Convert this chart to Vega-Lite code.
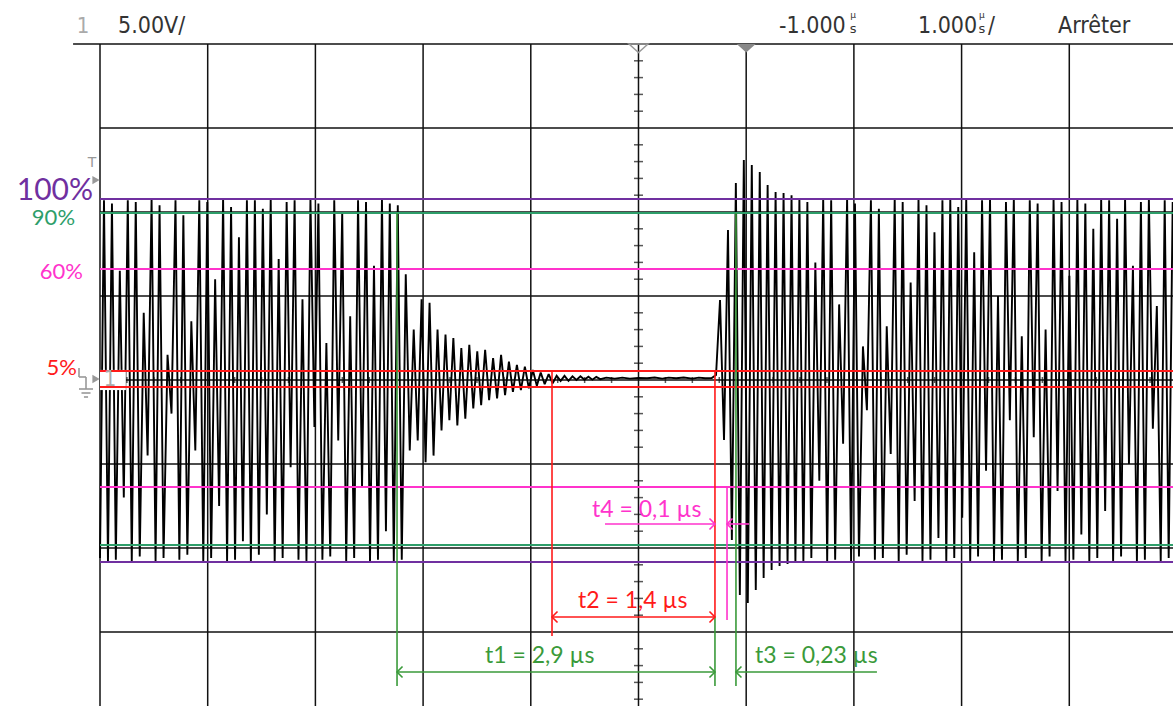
{
"$schema":"https://vega.github.io/schema/vega-lite/v6.json",
"width":1073,"height":662,
"autosize":{"type":"none"},
"padding":{"left":100,"top":44,"right":0,"bottom":0},
"background":"white",
"config":{"view":{"stroke":null}},
"datasets":{
"gridH":[{"v":15},{"v":10},{"v":5},{"v":0},{"v":-5},{"v":-10},{"v":-15}],
"gridV":[{"t":-6},{"t":-5},{"t":-4},{"t":-3},{"t":-2},{"t":-1},{"t":0},{"t":1},{"t":2},{"t":3}],
"tv":[{"v":19},{"v":18},{"v":17},{"v":16},{"v":14},{"v":13},{"v":12},{"v":11},{"v":9},{"v":8},{"v":7},{"v":6},{"v":4},{"v":3},{"v":2},{"v":1},{"v":-1},{"v":-2},{"v":-3},{"v":-4},{"v":-6},{"v":-7},{"v":-8},{"v":-9},{"v":-11},{"v":-12},{"v":-13},{"v":-14},{"v":-16},{"v":-17},{"v":-18},{"v":-19}],
"th":[{"t":-5.75},{"t":-5.5},{"t":-5.25},{"t":-4.75},{"t":-4.5},{"t":-4.25},{"t":-3.75},{"t":-3.5},{"t":-3.25},{"t":-2.75},{"t":-2.5},{"t":-2.25},{"t":-1.75},{"t":-1.5},{"t":-1.25},{"t":-0.75},{"t":-0.5},{"t":-0.25},{"t":0.25},{"t":0.5},{"t":0.75},{"t":1.25},{"t":1.5},{"t":1.75},{"t":2.25},{"t":2.5},{"t":2.75},{"t":3.25},{"t":3.5},{"t":3.75}],
"wave":[
{"t":-6.000,"v":-10.6},{"t":-5.963,"v":10.7},{"t":-5.926,"v":-10.8},{"t":-5.889,"v":10.5},{"t":-5.853,"v":-10.7},{"t":-5.816,"v":6.5},{"t":-5.779,"v":-7.0},{"t":-5.742,"v":10.7},{"t":-5.705,"v":-10.8},{"t":-5.668,"v":10.6},
{"t":-5.631,"v":-10.5},{"t":-5.594,"v":4.0},{"t":-5.558,"v":-4.5},{"t":-5.521,"v":10.8},{"t":-5.484,"v":-10.8},{"t":-5.447,"v":10.4},{"t":-5.410,"v":-10.6},{"t":-5.373,"v":1.5},{"t":-5.336,"v":-2.0},{"t":-5.299,"v":10.7},
{"t":-5.263,"v":-10.7},{"t":-5.226,"v":9.8},{"t":-5.189,"v":-10.4},{"t":-5.152,"v":3.5},{"t":-5.115,"v":-4.2},{"t":-5.078,"v":10.7},{"t":-5.041,"v":-10.8},{"t":-5.004,"v":10.6},{"t":-4.968,"v":-10.6},{"t":-4.931,"v":6.0},
{"t":-4.894,"v":-7.5},{"t":-4.857,"v":10.8},{"t":-4.820,"v":-10.8},{"t":-4.783,"v":10.3},{"t":-4.746,"v":-10.7},{"t":-4.710,"v":8.5},{"t":-4.673,"v":-9.6},{"t":-4.636,"v":10.7},{"t":-4.599,"v":-10.8},{"t":-4.562,"v":10.7},
{"t":-4.525,"v":-10.4},{"t":-4.488,"v":10.2},{"t":-4.451,"v":-8.0},{"t":-4.415,"v":10.8},{"t":-4.378,"v":-10.8},{"t":-4.341,"v":7.2},{"t":-4.304,"v":-10.6},{"t":-4.267,"v":10.6},{"t":-4.230,"v":-5.2},{"t":-4.193,"v":10.7},
{"t":-4.157,"v":-10.7},{"t":-4.120,"v":4.8},{"t":-4.083,"v":-10.8},{"t":-4.046,"v":10.8},{"t":-4.009,"v":-2.8},{"t":-3.972,"v":10.5},{"t":-3.935,"v":-10.7},{"t":-3.898,"v":2.2},{"t":-3.862,"v":-10.5},{"t":-3.825,"v":10.7},
{"t":-3.788,"v":-3.6},{"t":-3.751,"v":10.0},{"t":-3.714,"v":-10.8},{"t":-3.677,"v":3.8},{"t":-3.640,"v":-10.6},{"t":-3.604,"v":10.7},{"t":-3.567,"v":-6.4},{"t":-3.530,"v":10.6},{"t":-3.493,"v":-10.8},{"t":-3.456,"v":6.8},
{"t":-3.419,"v":-10.7},{"t":-3.382,"v":10.8},{"t":-3.345,"v":-9.0},{"t":-3.309,"v":10.5},{"t":-3.272,"v":-10.8},{"t":-3.235,"v":10.4},{"t":-3.198,"v":-10.7},{"t":-3.161,"v":6.3},{"t":-3.124,"v":-4.2},{"t":-3.087,"v":3.0},
{"t":-3.050,"v":-3.6},{"t":-3.014,"v":4.8},{"t":-2.977,"v":-4.9},{"t":-2.940,"v":4.6},{"t":-2.903,"v":-4.5},{"t":-2.866,"v":3.0},{"t":-2.829,"v":-3.0},{"t":-2.792,"v":2.7},{"t":-2.756,"v":-2.4},{"t":-2.719,"v":2.5},
{"t":-2.682,"v":-2.7},{"t":-2.645,"v":1.9},{"t":-2.608,"v":-2.3},{"t":-2.571,"v":2.1},{"t":-2.534,"v":-1.7},{"t":-2.497,"v":1.7},{"t":-2.461,"v":-1.5},{"t":-2.424,"v":1.8},{"t":-2.387,"v":-1.2},{"t":-2.350,"v":1.3},
{"t":-2.313,"v":-1.1},{"t":-2.276,"v":1.5},{"t":-2.239,"v":-0.9},{"t":-2.203,"v":1.1},{"t":-2.166,"v":-0.7},{"t":-2.129,"v":0.9},{"t":-2.092,"v":-0.6},{"t":-2.055,"v":0.8},{"t":-2.018,"v":-0.5},{"t":-1.981,"v":0.6},
{"t":-1.944,"v":-0.35},{"t":-1.908,"v":0.45},{"t":-1.871,"v":-0.25},{"t":-1.834,"v":0.35},{"t":-1.797,"v":-0.2},{"t":-1.760,"v":0.25},{"t":-1.723,"v":-0.05},{"t":-1.687,"v":0.25},{"t":-1.650,"v":-0.05},{"t":-1.613,"v":0.22},
{"t":-1.576,"v":0.0},{"t":-1.539,"v":0.22},{"t":-1.502,"v":0.02},{"t":-1.465,"v":0.2},{"t":-1.428,"v":0.02},{"t":-1.392,"v":0.18},{"t":-1.355,"v":0.05},{"t":-1.30,"v":0.14},{"t":-1.22,"v":0.08},{"t":-1.15,"v":0.14},
{"t":-1.08,"v":0.08},{"t":-1.00,"v":0.12},{"t":-0.92,"v":0.1},{"t":-0.85,"v":0.15},{"t":-0.78,"v":0.08},{"t":-0.72,"v":0.14},{"t":-0.65,"v":0.1},{"t":-0.58,"v":0.15},{"t":-0.50,"v":0.08},{"t":-0.44,"v":0.14},
{"t":-0.38,"v":0.1},{"t":-0.32,"v":0.12},
{"t":-0.280,"v":0.3},{"t":-0.243,"v":4.76},{"t":-0.206,"v":-3.57},{"t":-0.169,"v":8.93},{"t":-0.133,"v":-9.52},{"t":-0.096,"v":11.73},{"t":-0.059,"v":-12.8},{"t":-0.022,"v":13.1},{"t":0.015,"v":-13.27},{"t":0.052,"v":12.8},
{"t":0.089,"v":-12.5},{"t":0.126,"v":12.38},{"t":0.162,"v":-11.79},{"t":0.199,"v":11.61},{"t":0.236,"v":-11.31},{"t":0.273,"v":11.19},{"t":0.310,"v":-11.07},{"t":0.347,"v":11.13},{"t":0.384,"v":-10.95},{"t":0.421,"v":11.0},
{"t":0.457,"v":-10.89},{"t":0.494,"v":10.8},{"t":0.531,"v":-10.8},{"t":0.568,"v":10.6},{"t":0.605,"v":-10.6},{"t":0.642,"v":7.0},{"t":0.679,"v":-6.0},{"t":0.715,"v":10.8},{"t":0.752,"v":-10.8},{"t":0.789,"v":10.7},
{"t":0.826,"v":-10.7},{"t":0.863,"v":4.5},{"t":0.900,"v":-3.8},{"t":0.937,"v":10.8},{"t":0.974,"v":-10.8},{"t":1.010,"v":10.5},{"t":1.047,"v":-10.5},{"t":1.084,"v":2.0},{"t":1.121,"v":-1.8},{"t":1.158,"v":10.7},
{"t":1.195,"v":-10.7},{"t":1.232,"v":10.2},{"t":1.269,"v":-10.6},{"t":1.305,"v":3.2},{"t":1.342,"v":-4.4},{"t":1.379,"v":10.8},{"t":1.416,"v":-10.8},{"t":1.453,"v":10.6},{"t":1.490,"v":-10.4},{"t":1.527,"v":5.8},
{"t":1.564,"v":-7.2},{"t":1.600,"v":10.8},{"t":1.637,"v":-10.8},{"t":1.674,"v":10.4},{"t":1.711,"v":-10.7},{"t":1.748,"v":8.8},{"t":1.785,"v":-9.4},{"t":1.822,"v":10.7},{"t":1.858,"v":-10.8},{"t":1.895,"v":10.8},
{"t":1.932,"v":-10.6},{"t":1.969,"v":10.3},{"t":2.006,"v":-8.2},{"t":2.043,"v":10.8},{"t":2.080,"v":-10.8},{"t":2.117,"v":7.6},{"t":2.153,"v":-10.5},{"t":2.190,"v":10.7},{"t":2.227,"v":-5.4},{"t":2.264,"v":10.8},
{"t":2.301,"v":-10.8},{"t":2.338,"v":5.0},{"t":2.375,"v":-10.7},{"t":2.412,"v":10.6},{"t":2.448,"v":-2.4},{"t":2.485,"v":10.8},{"t":2.522,"v":-10.8},{"t":2.559,"v":2.6},{"t":2.596,"v":-10.6},{"t":2.633,"v":10.7},
{"t":2.670,"v":-3.4},{"t":2.706,"v":10.5},{"t":2.743,"v":-10.8},{"t":2.780,"v":3.0},{"t":2.817,"v":-10.5},{"t":2.854,"v":10.8},{"t":2.891,"v":-6.6},{"t":2.928,"v":10.6},{"t":2.965,"v":-10.8},{"t":3.001,"v":6.2},
{"t":3.038,"v":-10.7},{"t":3.075,"v":10.8},{"t":3.112,"v":-9.2},{"t":3.149,"v":10.5},{"t":3.186,"v":-10.8},{"t":3.223,"v":9.0},{"t":3.260,"v":-10.6},{"t":3.296,"v":10.8},{"t":3.333,"v":-7.8},{"t":3.370,"v":10.7},
{"t":3.407,"v":-10.8},{"t":3.444,"v":9.6},{"t":3.481,"v":-10.5},{"t":3.518,"v":10.8},{"t":3.554,"v":-5.0},{"t":3.591,"v":6.8},{"t":3.628,"v":-10.8},{"t":3.665,"v":10.6},{"t":3.702,"v":-10.7},{"t":3.739,"v":10.8},
{"t":3.776,"v":-2.9},{"t":3.813,"v":4.4},{"t":3.849,"v":-10.8},{"t":3.886,"v":10.7},{"t":3.923,"v":-10.6},{"t":3.960,"v":10.6}
],
"box":[{"t":-6,"t2":-5.76,"v":0.6,"v2":-0.6}],
"lv":[{"kind":"p","v":10.77},{"kind":"p","v":-10.83},{"kind":"g","v":9.94},{"kind":"g","v":-9.82},{"kind":"m","v":6.61},{"kind":"m","v":-6.37},{"kind":"r","v":0.54},{"kind":"r","v":-0.42}],
"segs":[
{"kind":"b","t":-6.25,"t2":3.963,"v":20,"v2":20},
{"kind":"a","t":-3.242,"t2":-3.242,"v":9.94,"v2":-18.21},
{"kind":"r","t":-1.803,"t2":-1.803,"v":0.54,"v2":-15.24},
{"kind":"r","t":-0.29,"t2":-0.29,"v":0.54,"v2":-14.11},
{"kind":"a","t":-0.29,"t2":-0.29,"v":-14.11,"v2":-18.21},
{"kind":"m","t":-0.178,"t2":-0.178,"v":-6.37,"v2":-14.29},
{"kind":"a","t":-0.095,"t2":-0.095,"v":9.94,"v2":-18.21},
{"kind":"a","t":-3.242,"t2":-0.29,"v":-17.38,"v2":-17.38},
{"kind":"a","t":-0.095,"t2":1.214,"v":-17.38,"v2":-17.38},
{"kind":"r","t":-1.803,"t2":-0.29,"v":-14.11,"v2":-14.11},
{"kind":"m","t":-1.311,"t2":-0.29,"v":-8.57,"v2":-8.57},
{"kind":"m","t":-0.178,"t2":0.026,"v":-8.57,"v2":-8.57},
{"kind":"k","t":-6.195,"t2":-6.195,"v":0.714,"v2":0.179},
{"kind":"k","t":-6.195,"t2":-6.13,"v":0.179,"v2":0.179},
{"kind":"k","t":-6.13,"t2":-6.13,"v":0.179,"v2":-0.536},
{"kind":"k","t":-6.195,"t2":-6.065,"v":-0.536,"v2":-0.536},
{"kind":"k","t":-6.172,"t2":-6.088,"v":-0.774,"v2":-0.774},
{"kind":"k","t":-6.149,"t2":-6.111,"v":-1.012,"v2":-1.012}
],
"arr":[
{"kind":"a","dir":"L","t":-3.242,"v":-17.38},
{"kind":"a","dir":"R","t":-0.29,"v":-17.38},
{"kind":"a","dir":"L","t":-0.095,"v":-17.38},
{"kind":"r","dir":"L","t":-1.803,"v":-14.11},
{"kind":"r","dir":"R","t":-0.29,"v":-14.11},
{"kind":"m","dir":"R","t":-0.29,"v":-8.57},
{"kind":"m","dir":"L","t":-0.178,"v":-8.57}
],
"lab":[
{"kind":"m","t":-1.432,"v":-8.15,"label":"t4 = 0,1 µs"},
{"kind":"r","t":-1.562,"v":-13.57,"label":"t2 = 1,4 µs"},
{"kind":"a","t":-2.425,"v":-16.85,"label":"t1 = 2,9 µs"},
{"kind":"a","t":0.082,"v":-16.85,"label":"t3 = 0,23 µs"}
],
"pct":[
{"kind":"g","t":-6.232,"v":9.2,"label":"90%"},
{"kind":"m","t":-6.158,"v":6.01,"label":"60%"},
{"kind":"r","t":-6.214,"v":0.30,"label":"5%"}
],
"pct100":[{"kind":"p","t":-6.065,"v":10.7,"label":"100%"}],
"hdr":[{"t":-5.833,"v":20.65,"label":"5.00V/"},{"t":0.305,"v":20.65,"label":"-1.000"},{"t":1.595,"v":20.65,"label":"1.000"},{"t":2.245,"v":20.65,"label":"/"},{"t":2.895,"v":20.65,"label":"Arrêter"}],
"mu":[{"t":0.992,"v":21.55,"label":"µ"},{"t":2.189,"v":21.55,"label":"µ"}],
"ss":[{"t":0.992,"v":20.65,"label":"s"},{"t":2.189,"v":20.65,"label":"s"}],
"gray1":[{"t":-6.158,"v":20.65,"label":"1"},{"t":-5.907,"v":-0.36,"label":"1"}],
"tT":[{"t":-6.074,"v":12.68,"label":"T"}],
"triR":[{"t":-6.037,"v":11.9},{"t":-6.037,"v":0.06}],
"triOpen":[{"t":-1,"v":20}],
"triFill":[{"t":0,"v":20}]
},
"layer":[
{"data":{"name":"gridH"},"mark":{"type":"rule","color":"#111","strokeWidth":1.5},
 "encoding":{"y":{"field":"v","type":"quantitative","scale":{"domain":[-19.405,20],"nice":false,"zero":false},"axis":null}}},
{"data":{"name":"gridV"},"mark":{"type":"rule","color":"#111","strokeWidth":1.5},
 "encoding":{"x":{"field":"t","type":"quantitative","scale":{"domain":[-6,3.963],"nice":false,"zero":false},"axis":null}}},
{"data":{"name":"tv"},"mark":{"type":"tick","orient":"horizontal","size":9,"thickness":1.5,"color":"#111"},
 "encoding":{"x":{"datum":-1,"type":"quantitative","scale":{"domain":[-6,3.963],"nice":false,"zero":false},"axis":null},
 "y":{"field":"v","type":"quantitative","scale":{"domain":[-19.405,20],"nice":false,"zero":false},"axis":null}}},
{"data":{"name":"th"},"mark":{"type":"tick","orient":"vertical","size":6,"thickness":1.5,"color":"#111"},
 "encoding":{"x":{"field":"t","type":"quantitative","scale":{"domain":[-6,3.963],"nice":false,"zero":false},"axis":null},
 "y":{"datum":0,"type":"quantitative","scale":{"domain":[-19.405,20],"nice":false,"zero":false},"axis":null}}},
{"data":{"name":"wave"},"mark":{"type":"line","color":"#000","strokeWidth":1.9,"strokeJoin":"miter","strokeMiterLimit":2},
 "encoding":{"x":{"field":"t","type":"quantitative","scale":{"domain":[-6,3.963],"nice":false,"zero":false},"axis":null},
 "y":{"field":"v","type":"quantitative","scale":{"domain":[-19.405,20],"nice":false,"zero":false},"axis":null}}},
{"data":{"name":"box"},"mark":{"type":"rect","color":"white"},
 "encoding":{"x":{"field":"t","type":"quantitative","scale":{"domain":[-6,3.963],"nice":false,"zero":false},"axis":null},"x2":{"field":"t2"},
 "y":{"field":"v","type":"quantitative","scale":{"domain":[-19.405,20],"nice":false,"zero":false},"axis":null},"y2":{"field":"v2"}}},
{"data":{"name":"lv"},"mark":{"type":"rule","strokeWidth":2},
 "encoding":{"y":{"field":"v","type":"quantitative","scale":{"domain":[-19.405,20],"nice":false,"zero":false},"axis":null},
 "color":{"field":"kind","type":"nominal","scale":{"domain":["p","g","a","m","r","k","b"],"range":["#7030A0","#2E9E6A","#3A9A3A","#FF33CC","#FF1A1A","#999999","#111111"]},"legend":null}}},
{"data":{"name":"segs"},"mark":{"type":"rule","strokeWidth":1.6},
 "encoding":{"x":{"field":"t","type":"quantitative","scale":{"domain":[-6,3.963],"nice":false,"zero":false},"axis":null},"x2":{"field":"t2"},
 "y":{"field":"v","type":"quantitative","scale":{"domain":[-19.405,20],"nice":false,"zero":false},"axis":null},"y2":{"field":"v2"},
 "color":{"field":"kind","type":"nominal","scale":{"domain":["p","g","a","m","r","k","b"],"range":["#7030A0","#2E9E6A","#3A9A3A","#FF33CC","#FF1A1A","#999999","#111111"]},"legend":null}}},
{"data":{"name":"arr"},"mark":{"type":"point","filled":false,"strokeWidth":1.6,"size":121,"opacity":1},
 "encoding":{"x":{"field":"t","type":"quantitative","scale":{"domain":[-6,3.963],"nice":false,"zero":false},"axis":null},
 "y":{"field":"v","type":"quantitative","scale":{"domain":[-19.405,20],"nice":false,"zero":false},"axis":null},
 "shape":{"field":"dir","type":"nominal","scale":{"domain":["L","R"],"range":["M1,-1L0,0L1,1","M-1,-1L0,0L-1,1"]},"legend":null},
 "color":{"field":"kind","type":"nominal","scale":{"domain":["p","g","a","m","r","k","b"],"range":["#7030A0","#2E9E6A","#3A9A3A","#FF33CC","#FF1A1A","#999999","#111111"]},"legend":null}}},
{"data":{"name":"lab"},"mark":{"type":"text","align":"left","baseline":"alphabetic","font":"Lato","fontSize":23},
 "encoding":{"x":{"field":"t","type":"quantitative","scale":{"domain":[-6,3.963],"nice":false,"zero":false},"axis":null},
 "y":{"field":"v","type":"quantitative","scale":{"domain":[-19.405,20],"nice":false,"zero":false},"axis":null},
 "text":{"field":"label"},
 "color":{"field":"kind","type":"nominal","scale":{"domain":["p","g","a","m","r","k","b"],"range":["#7030A0","#2E9E6A","#3A9A3A","#FF33CC","#FF1A1A","#999999","#111111"]},"legend":null}}},
{"data":{"name":"pct"},"mark":{"type":"text","align":"right","baseline":"alphabetic","font":"Lato","fontSize":22},
 "encoding":{"x":{"field":"t","type":"quantitative","scale":{"domain":[-6,3.963],"nice":false,"zero":false},"axis":null},
 "y":{"field":"v","type":"quantitative","scale":{"domain":[-19.405,20],"nice":false,"zero":false},"axis":null},
 "text":{"field":"label"},
 "color":{"field":"kind","type":"nominal","scale":{"domain":["p","g","a","m","r","k","b"],"range":["#7030A0","#2E9E6A","#3A9A3A","#FF33CC","#FF1A1A","#999999","#111111"]},"legend":null}}},
{"data":{"name":"pct100"},"mark":{"type":"text","align":"right","baseline":"alphabetic","font":"Lato","fontSize":30},
 "encoding":{"x":{"field":"t","type":"quantitative","scale":{"domain":[-6,3.963],"nice":false,"zero":false},"axis":null},
 "y":{"field":"v","type":"quantitative","scale":{"domain":[-19.405,20],"nice":false,"zero":false},"axis":null},
 "text":{"field":"label"},
 "color":{"field":"kind","type":"nominal","scale":{"domain":["p","g","a","m","r","k","b"],"range":["#7030A0","#2E9E6A","#3A9A3A","#FF33CC","#FF1A1A","#999999","#111111"]},"legend":null}}},
{"data":{"name":"hdr"},"mark":{"type":"text","align":"left","baseline":"alphabetic","font":"Liberation Sans Narrow, DejaVu Sans Condensed, sans-serif","fontSize":23,"color":"#333"},
 "encoding":{"x":{"field":"t","type":"quantitative","scale":{"domain":[-6,3.963],"nice":false,"zero":false},"axis":null},
 "y":{"field":"v","type":"quantitative","scale":{"domain":[-19.405,20],"nice":false,"zero":false},"axis":null},
 "text":{"field":"label"}}},
{"data":{"name":"mu"},"mark":{"type":"text","align":"center","baseline":"alphabetic","font":"DejaVu Sans","fontSize":9,"color":"#333"},
 "encoding":{"x":{"field":"t","type":"quantitative","scale":{"domain":[-6,3.963],"nice":false,"zero":false},"axis":null},
 "y":{"field":"v","type":"quantitative","scale":{"domain":[-19.405,20],"nice":false,"zero":false},"axis":null},
 "text":{"field":"label"}}},
{"data":{"name":"ss"},"mark":{"type":"text","align":"center","baseline":"alphabetic","font":"DejaVu Sans","fontSize":13,"color":"#333"},
 "encoding":{"x":{"field":"t","type":"quantitative","scale":{"domain":[-6,3.963],"nice":false,"zero":false},"axis":null},
 "y":{"field":"v","type":"quantitative","scale":{"domain":[-19.405,20],"nice":false,"zero":false},"axis":null},
 "text":{"field":"label"}}},
{"data":{"name":"gray1"},"mark":{"type":"text","align":"center","baseline":"alphabetic","font":"Liberation Sans Narrow, DejaVu Sans Condensed, sans-serif","fontSize":22,"color":"#aaa"},
 "encoding":{"x":{"field":"t","type":"quantitative","scale":{"domain":[-6,3.963],"nice":false,"zero":false},"axis":null},
 "y":{"field":"v","type":"quantitative","scale":{"domain":[-19.405,20],"nice":false,"zero":false},"axis":null},
 "text":{"field":"label"}}},
{"data":{"name":"tT"},"mark":{"type":"text","align":"center","baseline":"alphabetic","font":"DejaVu Sans","fontSize":14,"color":"#999"},
 "encoding":{"x":{"field":"t","type":"quantitative","scale":{"domain":[-6,3.963],"nice":false,"zero":false},"axis":null},
 "y":{"field":"v","type":"quantitative","scale":{"domain":[-19.405,20],"nice":false,"zero":false},"axis":null},
 "text":{"field":"label"}}},
{"data":{"name":"triR"},"mark":{"type":"point","shape":"triangle-right","filled":true,"size":70,"color":"#999","opacity":1},
 "encoding":{"x":{"field":"t","type":"quantitative","scale":{"domain":[-6,3.963],"nice":false,"zero":false},"axis":null},
 "y":{"field":"v","type":"quantitative","scale":{"domain":[-19.405,20],"nice":false,"zero":false},"axis":null}}},
{"data":{"name":"triOpen"},"mark":{"type":"point","shape":"M-1,0L1,0L0,0.9Z","filled":false,"strokeWidth":1.5,"size":360,"color":"#999","opacity":1},
 "encoding":{"x":{"field":"t","type":"quantitative","scale":{"domain":[-6,3.963],"nice":false,"zero":false},"axis":null},
 "y":{"field":"v","type":"quantitative","scale":{"domain":[-19.405,20],"nice":false,"zero":false},"axis":null}}},
{"data":{"name":"triFill"},"mark":{"type":"point","shape":"M-1,0L1,0L0,0.9Z","filled":true,"size":360,"color":"#888","opacity":1},
 "encoding":{"x":{"field":"t","type":"quantitative","scale":{"domain":[-6,3.963],"nice":false,"zero":false},"axis":null},
 "y":{"field":"v","type":"quantitative","scale":{"domain":[-19.405,20],"nice":false,"zero":false},"axis":null}}}
]
}
